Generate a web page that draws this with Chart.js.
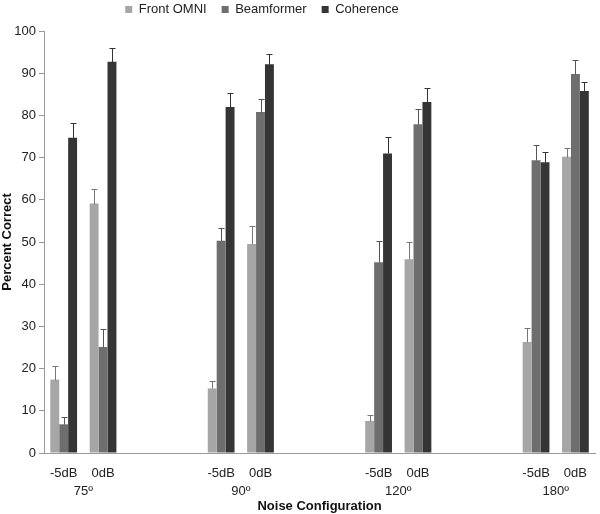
<!DOCTYPE html>
<html>
<head>
<meta charset="utf-8">
<script src="https://cdn.jsdelivr.net/npm/chart.js@4"></script>
<style>
  html, body { margin: 0; padding: 0; background: #fff; }
  #wrap { width: 600px; height: 514px; }
</style>
</head>
<body>
<div id="wrap"><canvas id="chart"></canvas></div>
<script>
const levels = ['-5dB', '0dB', '', '', '-5dB', '0dB', '', '', '-5dB', '0dB', '', '', '-5dB', '0dB'];
const angles = ['75º', '90º', '120º', '180º'];
const anglePos = [0.5, 4.5, 8.5, 12.5];

// bar heights (blank slots are null)
const frontOmni   = [17.4, 59.1, null, null, 15.3, 49.5, null, null, 7.6, 45.9, null, null, 26.3, 70.2];
const beamformer  = [6.8, 25.1, null, null, 50.3, 80.8, null, null, 45.2, 77.9, null, null, 69.4, 89.8];
const coherence   = [74.7, 92.7, null, null, 82.0, 92.1, null, null, 71.0, 83.2, null, null, 68.9, 85.8];

// upper error (standard error)
const frontErr = [3.2, 3.5, null, null, 1.8, 4.3, null, null, 1.3, 4.1, null, null, 3.3, 2.0];
const beamErr  = [1.7, 4.4, null, null, 3.1, 3.2, null, null, 5.1, 3.6, null, null, 3.7, 3.4];
const cohErr   = [3.6, 3.2, null, null, 3.2, 2.4, null, null, 3.9, 3.2, null, null, 2.5, 2.0];

const sans = "'Liberation Sans', Arial, sans-serif";

const errorBars = {
    id: 'errorBars',
    afterDatasetsDraw(chart) {
        const ctx = chart.ctx;
        const y = chart.scales.y;
        chart.data.datasets.forEach((ds, i) => {
            const meta = chart.getDatasetMeta(i);
            ctx.save();
            ctx.strokeStyle = ds.errColor;
            ctx.lineWidth = 1;
            meta.data.forEach((bar, j) => {
                const v = ds.data[j];
                const e = ds.err[j];
                if (v == null || e == null) return;
                const y0 = Math.round(y.getPixelForValue(v)) + 0.5;
                const y1 = Math.round(y.getPixelForValue(v + e)) + 0.5;
                const x = Math.round(bar.x) + 0.5;
                ctx.beginPath();
                ctx.moveTo(x, y0);
                ctx.lineTo(x, y1);
                ctx.moveTo(x - 3, y1);
                ctx.lineTo(x + 3, y1);
                ctx.stroke();
            });
            ctx.restore();
        });
    }
};

// legend sits a bit left of centre and close to the top in the original
const legendShift = {
    id: 'legendShift',
    afterLayout(chart) {
        chart.legend.left -= 40;
        chart.legend.right -= 40;
        chart.legend.top -= 5;
        chart.legend.bottom -= 5;
    }
};

new Chart(document.getElementById('chart'), {
    type: 'bar',
    data: {
        labels: levels,
        datasets: [{
            label: 'Front OMNI',
            data: frontOmni,
            err: frontErr,
            backgroundColor: '#a6a6a6',
            errColor: '#777777'
        }, {
            label: 'Beamformer',
            data: beamformer,
            err: beamErr,
            backgroundColor: '#6e6e6e',
            errColor: '#555555'
        }, {
            label: 'Coherence',
            data: coherence,
            err: cohErr,
            backgroundColor: '#353535',
            errColor: '#333333'
        }]
    },
    options: {
        responsive: true,
        maintainAspectRatio: false,
        animation: false,
        categoryPercentage: 0.68,
        barPercentage: 1.0,
        layout: { padding: { top: -7, right: -4, left: 0, bottom: 0 } },
        plugins: {
            legend: {
                position: 'top',
                labels: {
                    boxWidth: 7,
                    boxHeight: 7,
                    padding: 15,
                    color: '#222',
                    font: { family: sans, size: 13 }
                }
            },
            tooltip: { enabled: false }
        },
        scales: {
            x: {
                afterFit(axis) { axis.height = 29; },
                grid: { display: false, drawTicks: false },
                border: { display: true, color: '#999' },
                ticks: {
                    color: '#222',
                    autoSkip: false,
                    maxRotation: 0,
                    padding: 13,
                    font: { family: sans, size: 13 }
                }
            },
            x2: {
                type: 'linear',
                position: 'bottom',
                offset: false,
                min: -0.5,
                max: 13.5,
                afterFit(axis) { axis.height = 32; },
                grid: { display: false, drawTicks: false },
                border: { display: false },
                afterBuildTicks(axis) {
                    axis.ticks = anglePos.map(v => ({ value: v }));
                },
                ticks: {
                    color: '#222',
                    padding: 2,
                    maxRotation: 0,
                    font: { family: sans, size: 13 },
                    callback: (v) => angles[anglePos.indexOf(v)]
                },
                title: {
                    display: true,
                    text: 'Noise Configuration',
                    color: '#111',
                    padding: { top: 0, bottom: 0 },
                    font: { family: sans, size: 13, weight: 'bold' }
                }
            },
            y: {
                min: 0,
                max: 100,
                afterFit(axis) { axis.width = 44; },
                grid: { display: true, drawOnChartArea: false, drawTicks: true, tickLength: 5, color: '#999' },
                border: { display: true, color: '#999' },
                ticks: {
                    stepSize: 10,
                    color: '#222',
                    padding: 3,
                    font: { family: sans, size: 13 }
                },
                title: {
                    display: true,
                    text: 'Percent Correct',
                    color: '#111',
                    padding: { top: 0, bottom: 2 },
                    font: { family: sans, size: 13, weight: 'bold' }
                }
            }
        }
    },
    plugins: [errorBars, legendShift]
});
</script>
</body>
</html>
